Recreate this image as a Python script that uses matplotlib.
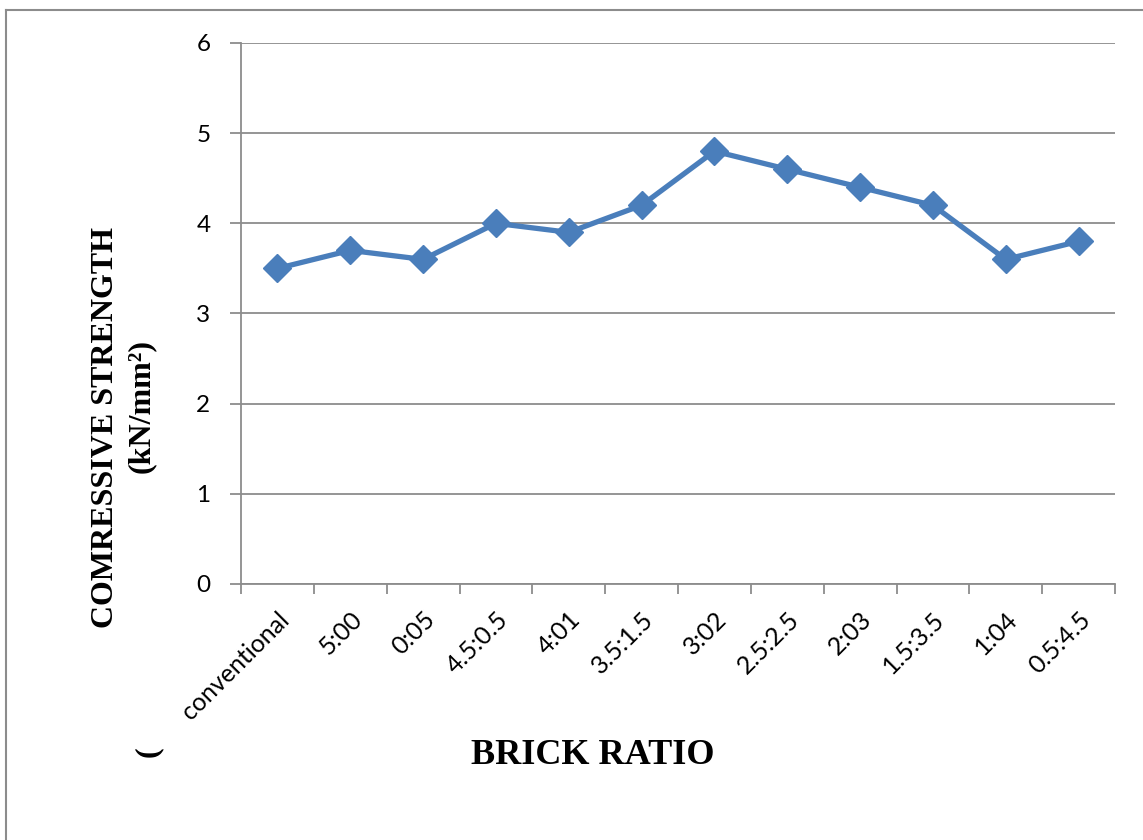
import matplotlib

matplotlib.use("Agg")

import matplotlib.pyplot as plt
from matplotlib.lines import Line2D

# Data
ratios = ['conventional', '5:00', '0:05', '4.5:0.5', '4:01', '3.5:1.5',
          '3:02', '2.5:2.5', '2:03', '1.5:3.5', '1:04', '0.5:4.5']
strength = [3.5, 3.7, 3.6, 4.0, 3.9, 4.2, 4.8, 4.6, 4.4, 4.2, 3.6, 3.8]
y_ticks = [0, 1, 2, 3, 4, 5, 6]

W, H = 1143, 840
GRID = '#8c8c8c'
BLUE = '#4a7ebb'

fig = plt.figure(figsize=(W / 100, H / 100), dpi=100, facecolor='white')

# outer frame (only left and top edges are visible in the reference)
fig.add_artist(Line2D([6 / W, 6 / W], [0, 1 - 10 / H], transform=fig.transFigure,
                      color=GRID, lw=1.5))
fig.add_artist(Line2D([6 / W, 1], [1 - 10 / H, 1 - 10 / H], transform=fig.transFigure,
                      color=GRID, lw=1.5))

ax = fig.add_axes([241 / W, 1 - 584 / H, (1115 - 241) / W, (584 - 43) / H])

x = list(range(len(ratios)))
ax.plot(x, strength, color=BLUE, lw=3.8, marker='D', markersize=14,
        markerfacecolor=BLUE, markeredgecolor=BLUE, zorder=3)

ax.set_xlim(-0.5, len(ratios) - 0.5)
ax.set_ylim(0, 6)
ax.set_yticks(y_ticks)
ax.set_yticklabels([str(v) for v in y_ticks], fontsize=17.5, family='Lato')
ax.yaxis.grid(True, color=GRID, lw=1.3)
ax.set_axisbelow(True)

# category labels at centres, tick marks at boundaries
ax.set_xticks(x)
ax.set_xticklabels(ratios, rotation=45, ha='right', rotation_mode='anchor',
                   fontsize=18, family='Lato')
ax.tick_params(axis='x', length=0, pad=17)
ax.set_xticks([i - 0.5 for i in range(len(ratios) + 1)], minor=True)
ax.tick_params(axis='x', which='minor', length=7, width=1.3, color=GRID, direction='out')
ax.tick_params(axis='y', length=8, width=1.3, color=GRID, direction='out', pad=14)

for side in ['top', 'right']:
    ax.spines[side].set_visible(False)
for side in ['left', 'bottom']:
    ax.spines[side].set_color(GRID)
    ax.spines[side].set_linewidth(1.3)

fig.text(106 / W, 1 - 428 / H, 'COMRESSIVE STRENGTH', rotation=90, ha='center', va='center',
         fontsize=23, fontweight='bold', family='Liberation Serif')
fig.text(141 / W, 1 - 406 / H, '(kN/mm²)', rotation=90, ha='center', va='center',
         fontsize=23, fontweight='bold', family='Liberation Serif')
fig.text(148 / W, 1 - 752 / H, '(', rotation=90, ha='center', va='center',
         fontsize=23, fontweight='bold', family='Liberation Serif')
fig.text(593 / W, 1 - 755 / H, 'BRICK RATIO', ha='center', va='center',
         fontsize=26, fontweight='bold', family='Liberation Serif')

fig.savefig('out.png', dpi=100, facecolor='white')
